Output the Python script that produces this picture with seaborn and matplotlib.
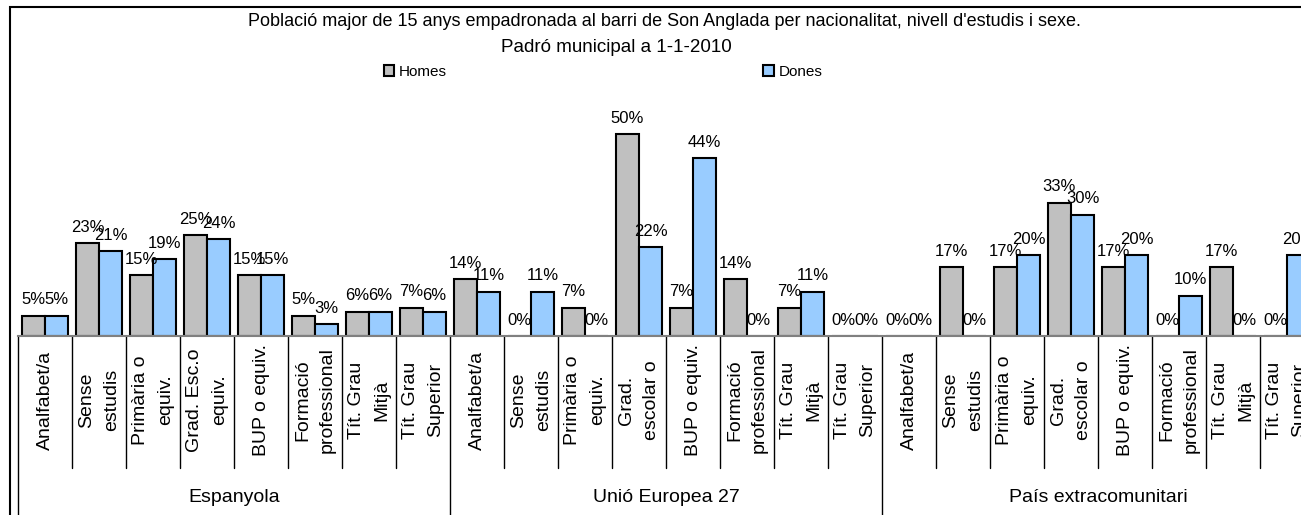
import pandas as pd
import matplotlib
matplotlib.use("Agg")
import matplotlib.pyplot as plt
import matplotlib.transforms as mtransforms
from matplotlib.patches import Patch, Rectangle
import seaborn as sns

# Data
groups = ["Espanyola", "Unió Europea 27", "País extracomunitari"]
levels_esp = ["Analfabet/a", "Sense\nestudis", "Primària o\nequiv.", "Grad. Esc.o\nequiv.",
              "BUP o equiv.", "Formació\nprofessional", "Tít. Grau\nMitjà", "Tít. Grau\nSuperior"]
levels_other = ["Analfabet/a", "Sense\nestudis", "Primària o\nequiv.", "Grad.\nescolar o",
                "BUP o equiv.", "Formació\nprofessional", "Tít. Grau\nMitjà", "Tít. Grau\nSuperior"]
homes_esp = [5, 23, 15, 25, 15, 5, 6, 7]
dones_esp = [5, 21, 19, 24, 15, 3, 6, 6]
homes_ue = [14, 0, 7, 50, 7, 14, 7, 0]
dones_ue = [11, 11, 0, 22, 44, 0, 11, 0]
homes_ext = [0, 17, 17, 33, 17, 0, 17, 0]
dones_ext = [0, 0, 20, 30, 20, 10, 0, 20]

title1 = "Població major de 15 anys empadronada al barri de Son Anglada per nacionalitat, nivell d'estudis i sexe."
title2 = "Padró municipal a 1-1-2010"
colors = {"Homes": "#C0C0C0", "Dones": "#99CCFF"}

# long-form table
rows = []
order = []
tick_labels = []
for g, lvls, h, d in [(groups[0], levels_esp, homes_esp, dones_esp),
                      (groups[1], levels_other, homes_ue, dones_ue),
                      (groups[2], levels_other, homes_ext, dones_ext)]:
    for lvl, hv, dv in zip(lvls, h, d):
        key = f"{g}|{lvl}"
        order.append(key)
        tick_labels.append(lvl)
        rows.append({"slot": key, "sexe": "Homes", "pct": hv})
        rows.append({"slot": key, "sexe": "Dones", "pct": dv})
df = pd.DataFrame(rows)

sns.set_style("white")
plt.rcParams["font.family"] = ["Liberation Sans", "DejaVu Sans"]
plt.rcParams["text.color"] = "black"

W, H = 1301, 515
fig = plt.figure(figsize=(W / 100, H / 100), dpi=100)
slot = 54
ax = fig.add_axes([18 / W, (H - 336) / H, 24 * slot / W, 60 * 4.04 / H])

sns.barplot(data=df, x="slot", y="pct", hue="sexe", order=order,
            hue_order=["Homes", "Dones"], palette=colors, saturation=1,
            width=0.86, gap=0, edgecolor="black", linewidth=1.5,
            legend=False, ax=ax)

for cont in ax.containers:
    vals = [int(b.get_height()) for b in cont]
    ax.bar_label(cont, labels=[f"{v}%" for v in vals], padding=6, fontsize=12, color="black")

ax.set_xlim(-0.5, 23.5)
ax.set_ylim(0, 60)
ax.set_xticks([])
ax.set_yticks([])
ax.set_xlabel("")
ax.set_ylabel("")
for s in ["top", "right", "left"]:
    ax.spines[s].set_visible(False)
ax.spines["bottom"].set_color("#808080")
ax.spines["bottom"].set_linewidth(1.5)

# category labels and separators below the axis
trans = mtransforms.blended_transform_factory(ax.transData, fig.transFigure)
for i, lab in enumerate(tick_labels):
    ax.text(i, 1 - 400 / H, lab, transform=trans, rotation=90, ha="center", va="center",
            multialignment="center", fontsize=14, linespacing=1.6, color="black")
for i in range(25):
    y_end = 0 if i % 8 == 0 else 1 - 468 / H
    ax.plot([i - 0.5, i - 0.5], [1 - 336 / H, y_end], transform=trans,
            color="black", lw=1, clip_on=False)
for k, g in enumerate(groups):
    ax.text(8 * k + 3.5, 1 - 497 / H, g, transform=trans, ha="center", va="center",
            fontsize=14, color="black")

ax.set_xlim(-0.5, 23.5)
ax.set_ylim(0, 60)

# titles and legend
fig.text(664 / W, 1 - 22 / H, title1, ha="center", va="center", fontsize=13, color="black")
fig.text(616 / W, 1 - 47 / H, title2, ha="center", va="center", fontsize=13.5, color="black")
handles = [Patch(facecolor=colors[k], edgecolor="black", linewidth=1.5, label=k)
           for k in ["Homes", "Dones"]]
leg = fig.legend(handles=handles, ncol=2, loc="center", bbox_to_anchor=(603 / W, 1 - 72 / H),
                 frameon=False, fontsize=11, handlelength=0.7, handleheight=0.7,
                 handletextpad=0.3, columnspacing=20.7, borderpad=0)
for t in leg.get_texts():
    t.set_color("black")

# outer frame (right and bottom edge cut off)
fig.add_artist(Rectangle((10 / W, -0.1), 1.2, 1.1 - 7 / H, transform=fig.transFigure,
                         fill=False, edgecolor="black", linewidth=1.5))

fig.savefig("out.png", dpi=100)
